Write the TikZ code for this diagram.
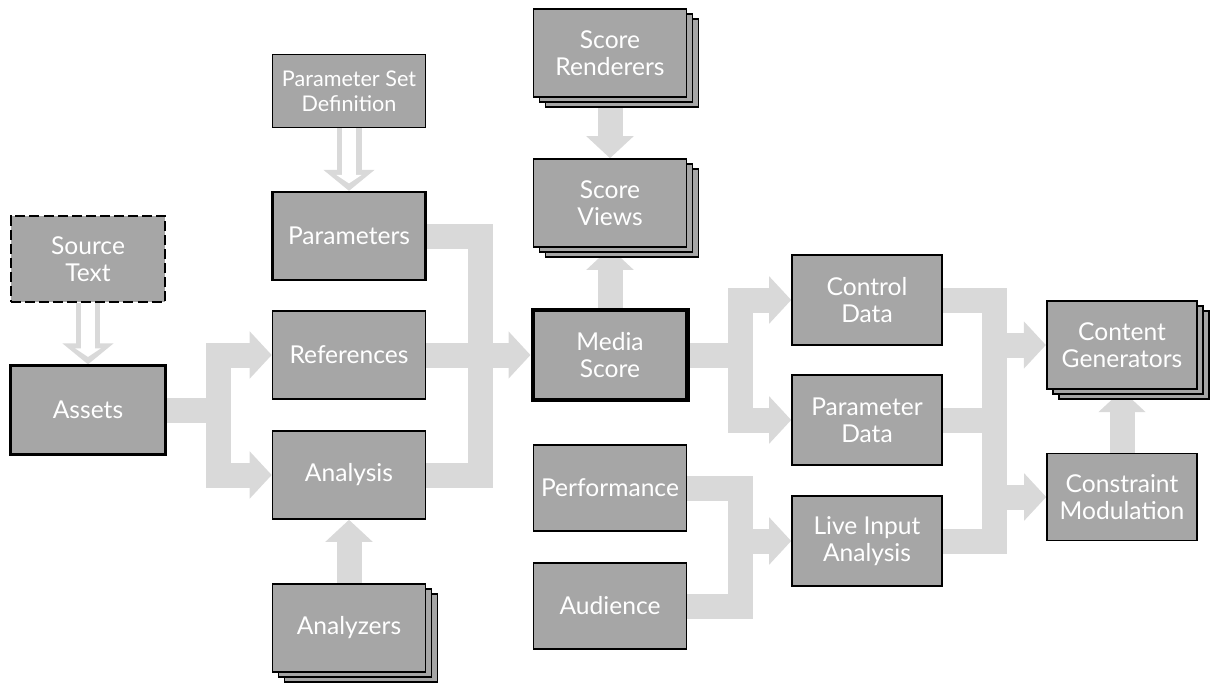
\documentclass[tikz,border=0pt]{standalone}
\usepackage{fontspec}
\newfontfamily\dgfont{Lato}
\usetikzlibrary{arrows.meta,calc,backgrounds,shadows}
\definecolor{dgbox}{RGB}{166,166,166}
\definecolor{dgflow}{RGB}{217,217,217}
\newcommand{\dglabel}{\dgfont\fontsize{14pt}{15.5pt}\selectfont}
\newcommand{\dgsmall}{\dgfont\fontsize{12.3pt}{14pt}\selectfont}
\tikzset{
  dgnode/.style={
    draw=black, fill=dgbox, line width=0.9pt, text=white,
    align=center, font=\dglabel, inner sep=2pt,
    minimum width=3.06cm, minimum height=1.76cm
  },
  bold/.style={dgnode, line width=1.3pt},
  core/.style={dgnode, line width=2.3pt},
  ext/.style={dgnode, line width=1.2pt, dash pattern=on 5.7pt off 2.3pt},
  multi/.style={dgnode, double copy shadow={shadow xshift=0.12cm, shadow yshift=-0.1cm}},
  right col/.style={minimum width=3.0cm, minimum height=1.8cm},
  flow/.style={draw=dgflow, line width=0.5cm, -{Triangle[length=0.44cm, width=0.92cm]}},
  flowbar/.style={draw=dgflow, line width=0.5cm},
  hollowout/.style={draw=dgflow, line width=0.5cm, -{Triangle[length=0.42cm, width=1.0cm]}},
  hollowin/.style={draw=white, line width=0.27cm, shorten >=0.15cm, -{Triangle[length=0.17cm, width=0.5cm]}}
}

\begin{document}
\begin{tikzpicture}[x=0.02cm,y=-0.02cm]
  \useasboundingbox (0,0) rectangle (1216,683);
  \node[ext, minimum width=3.08cm, minimum height=1.72cm] (src) at (88,259) {Source\\Text};
  \node[bold, minimum width=3.1cm, minimum height=1.78cm] (assets) at (88,410) {Assets};
  \node[dgnode, minimum height=1.46cm, font=\dgsmall] (psd) at (349,91) {Parameter Set\\Definition};
  \node[bold] (params) at (349,236) {Parameters};
  \node[dgnode] (refs) at (349,355) {References};
  \node[dgnode] (anal) at (349,475) {Analysis};
  \node[multi] (anlz) at (349,628) {Analyzers};
  \node[multi] (rend) at (610,53) {Score\\Renderers};
  \node[multi] (views) at (610,203) {Score\\Views};
  \node[core, minimum width=3.1cm, minimum height=1.8cm] (media) at (610,355) {Media\\Score};
  \node[dgnode, minimum height=1.72cm] (perf) at (610,488) {Performance};
  \node[dgnode, minimum height=1.72cm] (aud) at (610,606) {Audience};
  \node[dgnode, right col] (ctrl) at (867,300) {Control\\Data};
  \node[dgnode, right col] (pdata) at (867,420) {Parameter\\Data};
  \node[dgnode, right col] (live) at (867,541) {Live Input\\Analysis};
  \node[multi, bold, right col, minimum height=1.76cm] (gen) at (1122,345) {Content\\Generators};
  \node[dgnode, right col, minimum height=1.74cm] (cons) at (1122,497) {Constraint\\Modulation};
  \begin{scope}[on background layer]
    \draw[hollowout] (src.south) -- (assets.north);
    \draw[hollowin] (src.south) -- (assets.north);
    \draw[hollowout] (psd.south) -- (params.north);
    \draw[hollowin] (psd.south) -- (params.north);
    \draw[flow] (assets.east) -- ++(52,0) |- (refs.west);
    \draw[flow] (assets.east) -- ++(52,0) |- (anal.west);
    \coordinate (j1) at (480,355);
    \draw[flowbar] (params.east) -| (j1);
    \draw[flowbar] (anal.east) -| (j1);
    \draw[flow] (refs.east) -- (media.west);
    \draw[flow] (media.north) -- (views.south);
    \draw[flow] (rend.south) -- (views.north);
    \draw[flow] (anlz.north) -- (anal.south);
    \draw[flow] (media.east) -- ++(51,0) |- (ctrl.west);
    \draw[flow] (media.east) -- ++(51,0) |- (pdata.west);
    \coordinate (j2) at (740,541);
    \draw[flowbar] (perf.east) -| (j2);
    \draw[flowbar] (aud.east) -| (j2);
    \draw[flow] (j2) -- (live.west);
    \coordinate (j3) at (994,420);
    \draw[flowbar] (ctrl.east) -| (j3 |- live.east) -- (live.east);
    \draw[flowbar] (pdata.east) -- (j3);
    \draw[flow] (j3 |- gen.west) -- (gen.west);
    \draw[flow] (j3 |- cons.west) -- (cons.west);
    \draw[flow] (cons.north) -- (gen.south);
  \end{scope}
\end{tikzpicture}
\end{document}
